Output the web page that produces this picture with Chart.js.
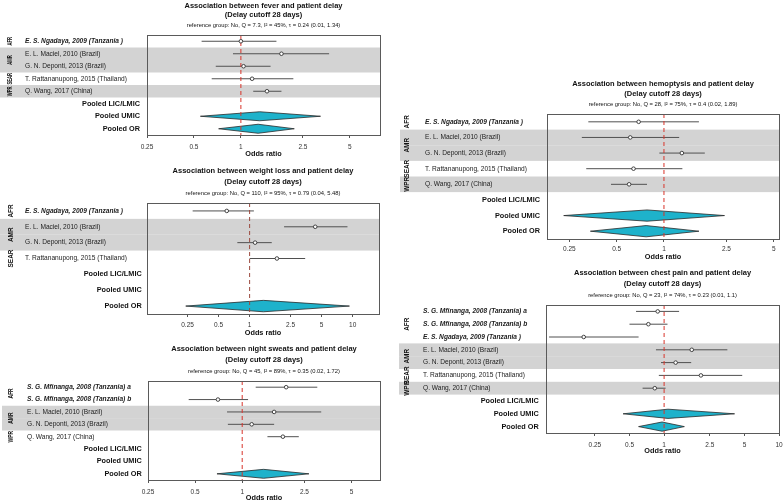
<!DOCTYPE html>
<html>
<head>
<meta charset="utf-8">
<script src="https://cdn.jsdelivr.net/npm/chart.js@4.4.0/dist/chart.umd.min.js"></script>
<style>
  html, body { margin: 0; padding: 0; background: #fff; }
  #wrap { position: relative; width: 784px; height: 502px; overflow: hidden; }
  #wrap canvas { position: absolute; left: 0; top: 0; }
</style>
</head>
<body>
<div id="wrap">
  <canvas id="fever" width="784" height="502"></canvas>
  <canvas id="weight" width="784" height="502"></canvas>
  <canvas id="sweats" width="784" height="502"></canvas>
  <canvas id="hemo" width="784" height="502"></canvas>
  <canvas id="chest" width="784" height="502"></canvas>
</div>
<script>
const FF = '"Liberation Sans", Arial, Helvetica, sans-serif';
const subtitle = '(Delay cutoff 28 days)';
const pooledLabels = ['Pooled LIC/LMIC', 'Pooled UMIC', 'Pooled OR'];
const ticksTo5 = [0.25, 0.5, 1, 2.5, 5];
const ticksTo10 = [0.25, 0.5, 1, 2.5, 5, 10];

// fever
const feverTitle = 'Association between fever and patient delay';
const feverStats = 'reference group: No, Q = 7.3, I² = 45%, τ = 0.24 (0.01, 1.34)';
const feverStudies = ['E. S. Ngadaya, 2009 (Tanzania )', 'E. L. Maciel, 2010 (Brazil)', 'G. N. Deponti, 2013 (Brazil)', 'T. Rattananupong, 2015 (Thailand)', 'Q. Wang, 2017 (China)'];
const feverRegions = ['AFR', 'AMR', 'AMR', 'SEAR', 'WPR'];
const feverOR = [1.0, 1.82, 1.04, 1.18, 1.47];
const feverLo = [0.56, 0.89, 0.69, 0.65, 1.2];
const feverHi = [1.69, 3.68, 1.55, 2.17, 1.82];
const feverPooledOR = [null, 1.32, 1.29];
const feverPooledLo = [null, 0.55, 0.72];
const feverPooledHi = [null, 3.24, 2.2];

// weight loss
const weightTitle = 'Association between weight loss and patient delay';
const weightStats = 'reference group: No, Q = 110, I² = 95%, τ = 0.79 (0.04, 5.48)';
const weightStudies = ['E. S. Ngadaya, 2009 (Tanzania )', 'E. L. Maciel, 2010 (Brazil)', 'G. N. Deponti, 2013 (Brazil)', 'T. Rattananupong, 2015 (Thailand)'];
const weightRegions = ['AFR', 'AMR', 'AMR', 'SEAR'];
const weightOR = [0.60, 4.33, 1.13, 1.84];
const weightLo = [0.28, 2.16, 0.76, 1.0];
const weightHi = [1.1, 8.9, 1.64, 3.46];
const weightPooledOR = [null, null, 1.36];
const weightPooledLo = [null, null, 0.24];
const weightPooledHi = [null, null, 9.3];

// night sweats
const sweatsTitle = 'Association between night sweats and patient delay';
const sweatsStats = 'reference group: No, Q = 45, I² = 89%, τ = 0.35 (0.02, 1.72)';
const sweatsStudies = ['S. G. Mfinanga, 2008 (Tanzania) a', 'S. G. Mfinanga, 2008 (Tanzania) b', 'E. L. Maciel, 2010 (Brazil)', 'G. N. Deponti, 2013 (Brazil)', 'Q. Wang, 2017 (China)'];
const sweatsRegions = ['AFR', 'AFR', 'AMR', 'AMR', 'WPR'];
const sweatsOR = [1.91, 0.70, 1.6, 1.15, 1.82];
const sweatsLo = [1.22, 0.455, 0.80, 0.81, 1.45];
const sweatsHi = [3.02, 1.09, 3.2, 1.6, 2.3];
const sweatsPooledOR = [null, null, 1.37];
const sweatsPooledLo = [null, null, 0.69];
const sweatsPooledHi = [null, null, 2.67];

// hemoptysis
const hemoTitle = 'Association between hemoptysis and patient delay';
const hemoStats = 'reference group: No, Q = 28, I² = 75%, τ = 0.4 (0.02, 1.89)';
const hemoStudies = ['E. S. Ngadaya, 2009 (Tanzania )', 'E. L. Maciel, 2010 (Brazil)', 'G. N. Deponti, 2013 (Brazil)', 'T. Rattananupong, 2015 (Thailand)', 'Q. Wang, 2017 (China)'];
const hemoRegions = ['AFR', 'AMR', 'AMR', 'SEAR', 'WPR'];
const hemoOR = [0.69, 0.61, 1.3, 0.64, 0.60];
const hemoLo = [0.33, 0.30, 0.935, 0.32, 0.46];
const hemoHi = [1.67, 1.25, 1.82, 1.31, 0.78];
const hemoPooledOR = [null, 0.78, 0.77];
const hemoPooledLo = [null, 0.23, 0.34];
const hemoPooledHi = [null, 2.43, 1.67];

// chest pain
const chestTitle = 'Association between chest pain and patient delay';
const chestStats = 'reference group: No, Q = 23, I² = 74%, τ = 0.23 (0.01, 1.1)';
const chestStudies = ['S. G. Mfinanga, 2008 (Tanzania) a', 'S. G. Mfinanga, 2008 (Tanzania) b', 'E. S. Ngadaya, 2009 (Tanzania )', 'E. L. Maciel, 2010 (Brazil)', 'G. N. Deponti, 2013 (Brazil)', 'T. Rattananupong, 2015 (Thailand)', 'Q. Wang, 2017 (China)'];
const chestRegions = ['AFR', 'AFR', 'AFR', 'AMR', 'AMR', 'SEAR', 'WPR'];
const chestOR = [0.88, 0.73, 0.20, 1.74, 1.26, 2.09, 0.83];
const chestLo = [0.57, 0.50, 0.1, 0.85, 0.94, 0.9, 0.65];
const chestHi = [1.35, 1.07, 0.60, 3.55, 1.72, 4.78, 1.03];
const chestPooledOR = [null, 1.08, 0.96];
const chestPooledLo = [null, 0.44, 0.6];
const chestPooledHi = [null, 4.1, 1.5];

// bands, frame, titles and row labels drawn around each forest plot
function makeDecor(p) {
  return {
    id: 'decor_' + p.id,
    beforeDatasetsDraw(chart) {
      const { ctx, chartArea: a, scales: { y } } = chart;
      ctx.save();
      ctx.fillStyle = '#d3d3d3';
      let g = 0;
      p.regions.forEach((r, i) => {
        if (i > 0 && r !== p.regions[i - 1]) g++;
        if (g % 2 === 1) {
          const t = y.getPixelForValue(i - 0.5), b = y.getPixelForValue(i + 0.5);
          ctx.fillRect(p.bandX, t, a.right - p.bandX, b - t);
        }
      });
      ctx.restore();
    },
    afterDatasetsDraw(chart) {
      const { ctx, chartArea: a } = chart;
      ctx.save();
      ctx.strokeStyle = '#5a5a5a';
      ctx.lineWidth = 1;
      ctx.strokeRect(Math.round(a.left) + 0.5, Math.round(a.top) + 0.5, Math.round(a.right - a.left), Math.round(a.bottom - a.top));
      ctx.restore();
    },
    afterDraw(chart) {
      const { ctx, chartArea: a, scales: { y } } = chart;
      const cx = (a.left + a.right) / 2;
      ctx.save();
      ctx.fillStyle = '#111';
      ctx.textAlign = 'center';
      ctx.textBaseline = 'middle';
      ctx.font = `bold 7.5px ${FF}`;
      ctx.fillText(p.title, cx, p.titleY[0]);
      ctx.fillText(subtitle, cx, p.titleY[1]);
      ctx.font = `5.8px ${FF}`;
      ctx.fillText(p.stats, cx, p.titleY[2]);

      // study labels
      ctx.textAlign = 'left';
      p.studies.forEach((s, i) => {
        ctx.fillStyle = '#222';
        ctx.font = (p.regions[i] === 'AFR' ? 'italic bold ' : '') + `6.6px ${FF}`;
        ctx.fillText(s, p.labelX, y.getPixelForValue(i));
      });
      ctx.textAlign = 'right';
      ctx.fillStyle = '#111';
      ctx.font = `bold 7.3px ${FF}`;
      pooledLabels.forEach((s, j) => {
        ctx.fillText(s, p.pooledX, y.getPixelForValue(p.studies.length + j));
      });

      // region labels (rotated)
      const groups = [];
      p.regions.forEach((r, i) => {
        const last = groups[groups.length - 1];
        if (last && last.name === r) last.end = i;
        else groups.push({ name: r, start: i, end: i });
      });
      ctx.font = `bold 7px ${FF}`;
      ctx.textAlign = 'center';
      groups.forEach(g => {
        ctx.save();
        ctx.translate(p.regionX, y.getPixelForValue((g.start + g.end) / 2));
        ctx.rotate(-Math.PI / 2);
        ctx.scale(p.regionScale, 1);
        ctx.fillText(g.name, 0, 0);
        ctx.restore();
      });
      ctx.restore();
    }
  };
}

function forestPanel(p) {
  const n = p.studies.length + pooledLabels.length;
  const [L, T, R, B] = p.box;
  const scaleH = Math.min(p.axisY - B + 4.4, 502 - B);
  const tickPad = p.tickY - B - 3 - 3.9;
  const datasets = [];

  datasets.push({
    data: p.or.map((v, i) => ({ x: v, y: i })),
    pointRadius: 1.8, pointBackgroundColor: '#fff', pointBorderColor: '#333', pointBorderWidth: 0.9,
    showLine: false, order: 0
  });
  datasets.push({
    data: [{ x: 1, y: -0.5 }, { x: 1, y: n - 0.5 }],
    showLine: true, borderColor: p.refColor, borderDash: [4, 3], borderWidth: 1, pointRadius: 0, order: 1
  });
  p.lo.forEach((lo, i) => {
    datasets.push({
      data: [{ x: lo, y: i }, { x: p.hi[i], y: i }],
      showLine: true, borderColor: '#505050', borderWidth: 1, pointRadius: 0, order: 2
    });
  });
  p.pooledOR.forEach((c, j) => {
    if (c == null) return;
    const r = p.studies.length + j;
    datasets.push({
      data: [{ x: p.pooledLo[j], y: r }, { x: c, y: r - 0.36 }, { x: p.pooledHi[j], y: r }, { x: c, y: r + 0.36 }, { x: p.pooledLo[j], y: r }],
      showLine: true, fill: 'shape', backgroundColor: '#1eb2cb', borderColor: '#2a2a2a', borderWidth: 0.8,
      pointRadius: 0, tension: 0, order: 3
    });
  });

  new Chart(document.getElementById(p.id), {
    type: 'scatter',
    data: { datasets },
    options: {
      responsive: false,
      animation: false,
      devicePixelRatio: 1,
      layout: { padding: { left: L, top: T, right: 784 - R, bottom: 502 - B - scaleH } },
      plugins: { legend: { display: false }, tooltip: { enabled: false } },
      scales: {
        x: {
          type: 'logarithmic',
          min: p.xMin, max: p.xMax,
          afterBuildTicks: ax => { ax.ticks = p.ticks.map(v => ({ value: v })); },
          afterFit: ax => { ax.height = scaleH; ax.paddingLeft = 0; ax.paddingRight = 0; },
          ticks: {
            callback: v => String(v), autoSkip: false, maxRotation: 0,
            font: { size: 6.5, family: FF }, color: '#333', padding: tickPad
          },
          grid: { drawOnChartArea: false, drawTicks: true, tickLength: 3, color: '#555' },
          border: { display: true, color: '#555' },
          title: { display: true, text: 'Odds ratio', font: { size: 7.3, weight: 'bold', family: FF }, color: '#111', padding: 0 }
        },
        y: { type: 'linear', display: false, reverse: true, min: -0.5, max: n - 0.5 }
      }
    },
    plugins: [makeDecor(p)]
  });
}

forestPanel({
  id: 'fever', title: feverTitle, stats: feverStats, studies: feverStudies, regions: feverRegions,
  or: feverOR, lo: feverLo, hi: feverHi, pooledOR: feverPooledOR, pooledLo: feverPooledLo, pooledHi: feverPooledHi,
  box: [147, 35, 380, 135], xMin: 0.25, xMax: 7.8, ticks: ticksTo5,
  titleY: [5.7, 15.3, 25], tickY: 147, axisY: 153.5,
  labelX: 25, pooledX: 140, regionX: 10.3, regionScale: 0.6, bandX: 0, refColor: '#d8342a'
});
forestPanel({
  id: 'weight', title: weightTitle, stats: weightStats, studies: weightStudies, regions: weightRegions,
  or: weightOR, lo: weightLo, hi: weightHi, pooledOR: weightPooledOR, pooledLo: weightPooledLo, pooledHi: weightPooledHi,
  box: [147, 203, 379, 314], xMin: 0.101, xMax: 18, ticks: ticksTo10,
  titleY: [171, 181.5, 193], tickY: 325, axisY: 333,
  labelX: 25, pooledX: 141.7, regionX: 11.5, regionScale: 0.92, bandX: 0, refColor: '#9c4a3e'
});
forestPanel({
  id: 'sweats', title: sweatsTitle, stats: sweatsStats, studies: sweatsStudies, regions: sweatsRegions,
  or: sweatsOR, lo: sweatsLo, hi: sweatsHi, pooledOR: sweatsPooledOR, pooledLo: sweatsPooledLo, pooledHi: sweatsPooledHi,
  box: [148, 381, 380, 480], xMin: 0.25, xMax: 7.6, ticks: ticksTo5,
  titleY: [349.3, 360, 371.7], tickY: 492.3, axisY: 499.5,
  labelX: 27, pooledX: 141.7, regionX: 11.5, regionScale: 0.7, bandX: 2, refColor: '#d8342a'
});
forestPanel({
  id: 'hemo', title: hemoTitle, stats: hemoStats, studies: hemoStudies, regions: hemoRegions,
  or: hemoOR, lo: hemoLo, hi: hemoHi, pooledOR: hemoPooledOR, pooledLo: hemoPooledLo, pooledHi: hemoPooledHi,
  box: [547, 114, 780, 239], xMin: 0.18, xMax: 5.41, ticks: ticksTo5,
  titleY: [83.7, 93.7, 104.3], tickY: 249.3, axisY: 256.7,
  labelX: 425, pooledX: 540, regionX: 407, regionScale: 0.92, bandX: 400, refColor: '#d8342a'
});
forestPanel({
  id: 'chest', title: chestTitle, stats: chestStats, studies: chestStudies, regions: chestRegions,
  or: chestOR, lo: chestLo, hi: chestHi, pooledOR: chestPooledOR, pooledLo: chestPooledLo, pooledHi: chestPooledHi,
  box: [546, 305, 780, 433], xMin: 0.094, xMax: 10, ticks: ticksTo10,
  titleY: [273.3, 283.7, 295], tickY: 445, axisY: 451.3,
  labelX: 423, pooledX: 538.7, regionX: 407, regionScale: 0.92, bandX: 399, refColor: '#d8342a'
});
</script>
</body>
</html>
